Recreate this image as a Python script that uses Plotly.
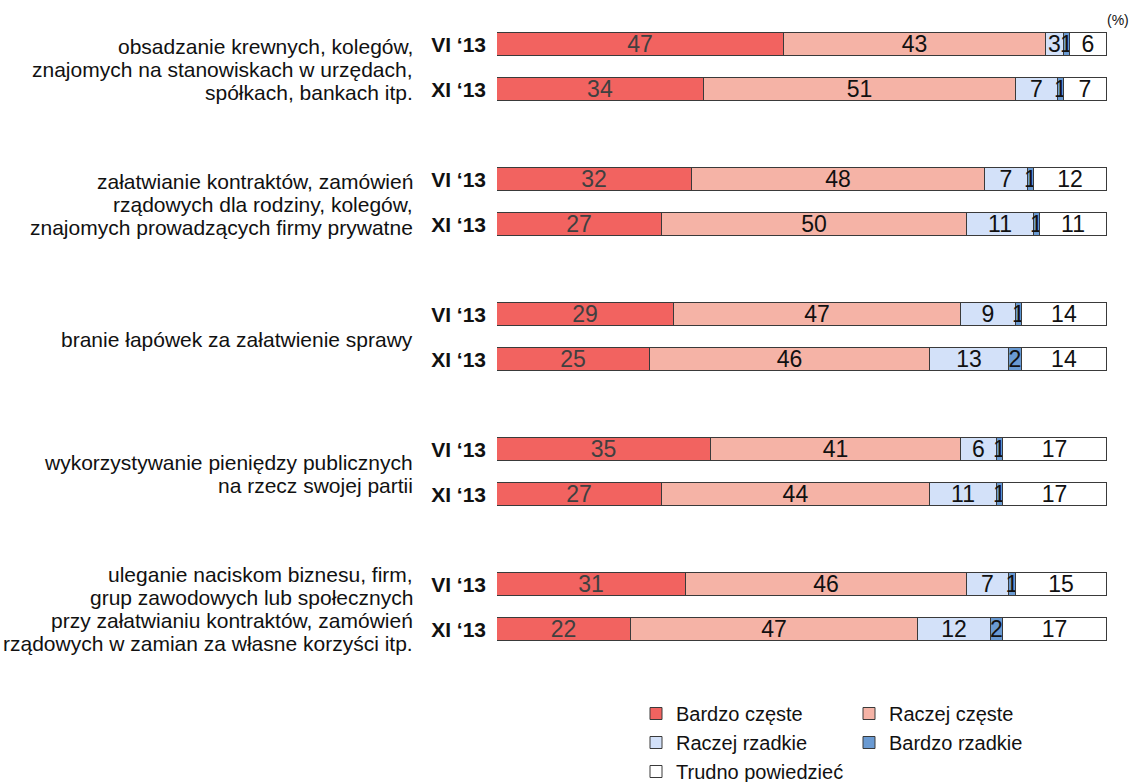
import plotly.graph_objects as go

topics = [
    ["obsadzanie krewnych, kolegów,", "znajomych na stanowiskach w urzędach,", "spółkach, bankach itp."],
    ["załatwianie kontraktów, zamówień", "rządowych dla rodziny, kolegów,", "znajomych prowadzących firmy prywatne"],
    ["branie łapówek za załatwienie sprawy"],
    ["wykorzystywanie pieniędzy publicznych", "na rzecz swojej partii"],
    ["uleganie naciskom biznesu, firm,", "grup zawodowych lub społecznych", "przy załatwianiu kontraktów, zamówień",
     "rządowych w zamian za własne korzyści itp."],
]
waves = ["VI ‘13", "XI ‘13"]
series_names = ["Bardzo częste", "Raczej częste", "Raczej rzadkie", "Bardzo rzadkie", "Trudno powiedzieć"]
bardzo_czeste = [47, 34, 32, 27, 29, 25, 35, 27, 31, 22]
raczej_czeste = [43, 51, 48, 50, 47, 46, 41, 44, 46, 47]
raczej_rzadkie = [3, 7, 7, 11, 9, 13, 6, 11, 7, 12]
bardzo_rzadkie = [1, 1, 1, 1, 1, 2, 1, 1, 1, 2]
trudno = [6, 7, 12, 11, 14, 14, 17, 17, 15, 17]

series_values = [bardzo_czeste, raczej_czeste, raczej_rzadkie, bardzo_rzadkie, trudno]
colors = ["#F26360", "#F5B3A6", "#D3E1F9", "#6A9AD2", "#FFFFFF"]
text_colors = ["#404040", "#111111", "#111111", "#111111", "#111111"]

FONT = "Arial, Liberation Sans, sans-serif"

ypos = []
ylabels = []
for g in range(len(topics)):
    for w in range(len(waves)):
        ypos.append(3 * g + w)
        ylabels.append("<b>" + waves[w] + "</b>")

fig = go.Figure()
for name, vals, col, tcol in zip(series_names, series_values, colors, text_colors):
    fig.add_trace(go.Bar(
        name=name, x=vals, y=ypos, orientation="h",
        marker=dict(color=col, line=dict(color="#3a3a3a", width=1)),
        text=[str(v) for v in vals], textposition="inside", textangle=0,
        insidetextanchor="middle", constraintext="none",
        textfont=dict(family=FONT, size=23, color=tcol),
        width=0.53, hoverinfo="name+x",
    ))

W, H = 1133, 782
ml, mr, mt, mb = 497, 26, 22, 130
pw = W - ml - mr
ph = H - mt - mb
unit_px = 45.0
line_px = 23.0

annotations = []
for g, lines in enumerate(topics):
    n = len(lines)
    for k, line in enumerate(lines):
        annotations.append(dict(
            text=line, xref="paper", yref="y", x=(415 - ml) / pw,
            y=3 * g + 0.5 + (k - (n - 1) / 2) * line_px / unit_px + 2 / unit_px,
            xanchor="right", yanchor="middle", align="right", showarrow=False,
            font=dict(family=FONT, size=21, color="#111111"),
        ))
annotations.append(dict(
    text="(%)", xref="paper", yref="paper", x=(1131 - ml) / pw, y=1.0 + 2 / ph, xanchor="right",
    yanchor="middle", showarrow=False, font=dict(family=FONT, size=14, color="#111111"),
))

fig.update_layout(
    width=W, height=H, barmode="stack", bargap=0,
    margin=dict(l=ml, r=mr, t=mt, b=mb, autoexpand=False),
    plot_bgcolor="white", paper_bgcolor="white",
    font=dict(family=FONT, color="#111111"),
    xaxis=dict(range=[0, 100], visible=False),
    yaxis=dict(range=[13.5, -0.5], tickvals=ypos, ticktext=ylabels, showgrid=False,
               zeroline=False, showline=False, ticks="", ticklabelstandoff=10,
               tickfont=dict(family=FONT, size=21, color="#111111")),
    showlegend=True,
    legend=dict(orientation="h", x=(636 - ml) / pw, y=(652 - 694) / ph, xanchor="left", yanchor="top",
                traceorder="normal", entrywidth=168, entrywidthmode="pixels",
                font=dict(family=FONT, size=20, color="#111111")),
    annotations=annotations,
)

fig.write_html("out.html", config={"displayModeBar": False},
               post_script="document.body.style.margin='0';document.body.style.overflow='hidden';")
